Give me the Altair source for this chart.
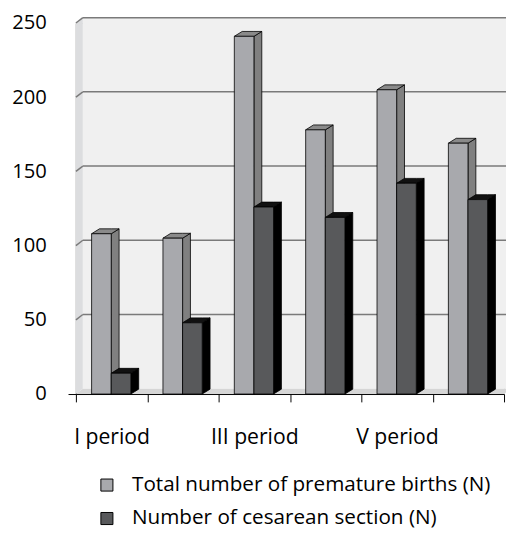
import altair as alt
import pandas as pd

# ---------------- data ----------------
categories = ["I period", "II period", "III period", "IV period", "V period", "VI period"]
premature = [108, 105, 241, 178, 205, 169]
cesarean = [14, 48, 126, 119, 142, 131]
series_names = ["Total number of premature births (N)", "Number of cesarean section (N)"]
y_ticks = [0, 50, 100, 150, 200, 250]
shown_labels = ["I period", "III period", "V period"]

# ---------------- geometry (data units) ----------------
N = len(categories)
BAR_START = 0.22
BAR_W = 0.275
DX, DY = 0.11, 3.3      # bar depth
WDX, WDY = 0.097, 3.6   # wall depth
FONT = "Open Sans"

front_rows, side_rows, top_rows = [], [], []
for s_idx, (sname, vals) in enumerate(zip(series_names, [premature, cesarean])):
    for i, v in enumerate(vals):
        xl = i + BAR_START + s_idx * BAR_W
        xr = xl + BAR_W
        bid = f"{s_idx}-{i}"
        front_rows.append(dict(series=sname, cat=categories[i], x=xl, x2=xr, y=0, y2=v, s=s_idx))
        side_rows += [dict(id=bid, s=s_idx, x=xr, y=v, y2=0),
                      dict(id=bid, s=s_idx, x=xr + DX, y=v + DY, y2=DY)]
        top_rows += [dict(id=bid, s=s_idx, x=xl, y=v, y2=v),
                     dict(id=bid, s=s_idx, x=xl + DX, y=v + DY, y2=v),
                     dict(id=bid, s=s_idx, x=xr, y=v + DY, y2=v),
                     dict(id=bid, s=s_idx, x=xr + DX, y=v + DY, y2=v + DY)]
front = pd.DataFrame(front_rows)
side = pd.DataFrame(side_rows)
top = pd.DataFrame(top_rows)

back_wall = pd.DataFrame([dict(x=WDX, x2=N + WDX, y=WDY, y2=y_ticks[-1] + WDY)])
left_wall = pd.DataFrame([dict(x=0, y=y_ticks[-1], y2=0),
                          dict(x=WDX, y=y_ticks[-1] + WDY, y2=WDY)])
floor = pd.DataFrame([dict(x=0, y=0, y2=0), dict(x=WDX, y=WDY, y2=0),
                      dict(x=N, y=WDY, y2=0), dict(x=N + WDX, y=WDY, y2=WDY)])
grid = pd.DataFrame([dict(x=WDX, x2=N + WDX, y=t + WDY, y2=t + WDY) for t in y_ticks[1:]])
grid_diag = pd.DataFrame([dict(x=0, x2=WDX, y=t, y2=t + WDY) for t in y_ticks[1:]])

# ---------------- axes ----------------
label_expr = " : ".join(
    f"datum.value == {i + 0.5} ? '{c}'" for i, c in enumerate(categories) if c in shown_labels
) + " : ''"
x_axis = alt.Axis(
    values=[k / 2 for k in range(2 * N + 1)], labelExpr=label_expr, title=None, grid=False,
    tickSize=8, tickWidth=1,
    tickColor={"condition": {"test": "datum.value % 1 === 0", "value": "black"}, "value": "transparent"},
    domainColor="black", domainWidth=1, labelFontSize=21.5, labelColor="black", labelFont=FONT,
    labelPadding=25, labelFlush=False, labelOverlap=False,
)
y_axis = alt.Axis(
    values=y_ticks, title=None, grid=False, tickSize=8, tickWidth=1,
    tickColor={"condition": {"test": "datum.value === 0", "value": "black"}, "value": "transparent"},
    domainColor="black", domainWidth=1, labelFontSize=20.5, labelColor="black", labelFont=FONT,
    labelPadding=22,
)
xs = alt.Scale(domain=[0, N], nice=False, zero=False)
ys = alt.Scale(domain=[0, y_ticks[-1]], nice=False, zero=False)


def X(f="x"):
    return alt.X(f"{f}:Q", scale=xs, axis=x_axis)


def Y(f="y"):
    return alt.Y(f"{f}:Q", scale=ys, axis=y_axis, stack=None)


layers = []
layers.append(alt.Chart(back_wall).mark_rect(fill="#f0f0f0").encode(X(), x2="x2:Q", y=Y(), y2="y2:Q"))
layers.append(alt.Chart(left_wall).mark_area(fill="#dcdddf", orient="vertical").encode(X(), Y(), y2="y2:Q"))
layers.append(alt.Chart(floor).mark_area(fill="#d6d6d6", orient="vertical").encode(X(), Y(), y2="y2:Q"))
layers.append(alt.Chart(grid).mark_rule(color="#7a7a7a", strokeWidth=1.5).encode(X(), x2="x2:Q", y=Y(), y2="y2:Q"))
layers.append(alt.Chart(grid_diag).mark_rule(color="#7a7a7a", strokeWidth=1.5).encode(X(), x2="x2:Q", y=Y(), y2="y2:Q"))

side_cols = ["#808080", "#000000"]
top_cols = ["#8a8a8a", "#111111"]
for s_idx in range(len(series_names)):
    layers.append(alt.Chart(side[side.s == s_idx]).mark_area(
        fill=side_cols[s_idx], stroke="black", strokeWidth=0.8, orient="vertical").encode(
        X(), Y(), y2="y2:Q", detail="id:N"))
    layers.append(alt.Chart(top[top.s == s_idx]).mark_area(
        fill=top_cols[s_idx], stroke="black", strokeWidth=0.8, orient="vertical").encode(
        X(), Y(), y2="y2:Q", detail="id:N"))
    layers.append(alt.Chart(front[front.s == s_idx]).mark_rect(stroke="black", strokeWidth=0.8).encode(
        X(), x2="x2:Q", y=Y(), y2="y2:Q",
        color=alt.Color("series:N", scale=alt.Scale(domain=series_names, range=["#a8a9ad", "#58595b"]),
                        legend=alt.Legend(orient="none", legendX=21, legendY=459, title=None,
                                          symbolType="square", symbolSize=150, symbolStrokeColor="black",
                                          symbolStrokeWidth=1, labelFontSize=21, labelFont=FONT,
                                          labelColor="black", labelOffset=15, rowPadding=12,
                                          padding=0, labelLimit=0)),
    ))

chart = alt.layer(*layers).properties(
    width=435, height=377, autosize="none",
    padding={"left": 69, "top": 11, "right": 2, "bottom": 138},
).configure_view(stroke=None).configure(font=FONT)

chart.save("out.html", embed_options={"renderer": "svg", "actions": False})
